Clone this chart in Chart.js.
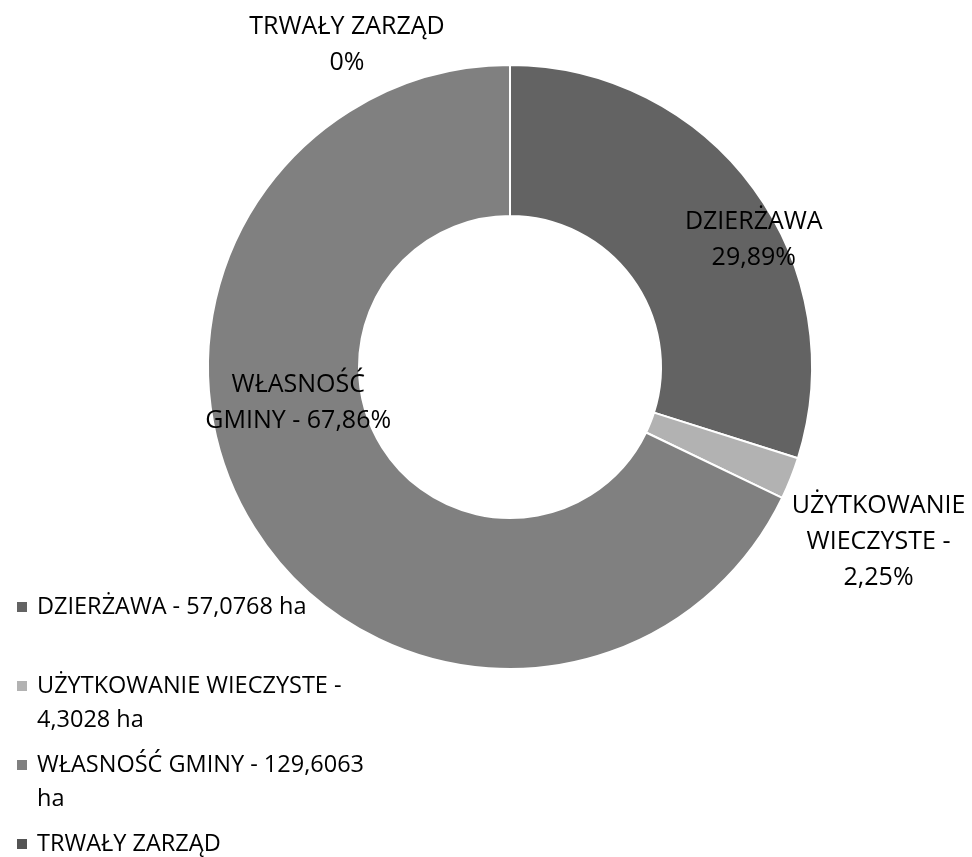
<!DOCTYPE html>
<html>
<head>
<meta charset="utf-8">
<script src="https://cdn.jsdelivr.net/npm/chart.js@4.4.0/dist/chart.umd.min.js"></script>
<style>
  html, body { margin: 0; padding: 0; background: #ffffff; }
  #wrap { width: 972px; height: 857px; position: relative; }
</style>
</head>
<body>
<div id="wrap"><canvas id="chart" width="972" height="857"></canvas></div>
<script>
// dane wykresu
const categories = ['DZIERŻAWA', 'UŻYTKOWANIE WIECZYSTE', 'WŁASNOŚĆ GMINY', 'TRWAŁY ZARZĄD'];
const areas = [57.0768, 4.3028, 129.6063, 0];
const areaLabels = ['57,0768 ha', '4,3028 ha', '129,6063 ha', ''];
const percentLabels = ['29,89%', '2,25%', '67,86%', '0%'];
const colors = ['#636363', '#b2b2b2', '#808080', '#545454'];

// etykiety na wykresie (linie tekstu i przesunięcie od środka wycinka)
const sliceLabelLines = [
  ['DZIERŻAWA', '29,89%'],
  ['UŻYTKOWANIE', 'WIECZYSTE -', '2,25%'],
  ['WŁASNOŚĆ', 'GMINY - 67,86%'],
  ['TRWAŁY ZARZĄD', '0%']
];
const sliceLabelOffset = [[61, 7], [158, 91], [-20, -85], [-163, -20]];

// legenda - zawinięte linie
const legendLines = [
  ['DZIERŻAWA - 57,0768 ha'],
  ['UŻYTKOWANIE WIECZYSTE -', '4,3028 ha'],
  ['WŁASNOŚĆ GMINY - 129,6063', 'ha'],
  ['TRWAŁY ZARZĄD']
];

const FONT = '"Open Sans", "Noto Sans", sans-serif';

const sliceLabelsPlugin = {
  id: 'sliceLabels',
  afterDatasetsDraw(chart) {
    const ctx = chart.ctx;
    const meta = chart.getDatasetMeta(0);
    ctx.save();
    ctx.font = '25px ' + FONT;
    ctx.fillStyle = '#000000';
    ctx.textAlign = 'center';
    ctx.textBaseline = 'middle';
    const lineH = 36;
    meta.data.forEach((arc, i) => {
      let p;
      if (areas[i] === 0) {
        // pusty wycinek - punkt na górze pierścienia
        p = { x: arc.x, y: arc.y - arc.outerRadius };
      } else {
        p = arc.tooltipPosition();
      }
      const lines = sliceLabelLines[i];
      const cx = p.x + sliceLabelOffset[i][0];
      const cy = p.y + sliceLabelOffset[i][1];
      const top = cy - (lines.length - 1) * lineH / 2;
      lines.forEach((t, k) => ctx.fillText(t, cx, top + k * lineH));
    });
    ctx.restore();
  }
};

const legendPlugin = {
  id: 'customLegend',
  afterDraw(chart) {
    const ctx = chart.ctx;
    ctx.save();
    ctx.font = '23.5px ' + FONT;
    ctx.textBaseline = 'middle';
    const startY = 607;
    const slot = 79;
    const lineH = 34;
    legendLines.forEach((lines, i) => {
      const y = startY + i * slot;
      ctx.fillStyle = colors[i];
      ctx.fillRect(17, y - 5, 10, 10);
      ctx.fillStyle = '#000000';
      lines.forEach((t, k) => ctx.fillText(t, 37, y + k * lineH));
    });
    ctx.restore();
  }
};

new Chart(document.getElementById('chart'), {
  type: 'doughnut',
  data: {
    labels: categories,
    datasets: [{
      data: areas,
      backgroundColor: colors,
      borderColor: '#ffffff',
      borderWidth: 2
    }]
  },
  options: {
    responsive: false,
    animation: false,
    cutout: '50%',
    layout: { padding: { left: 207, right: 159, top: 64, bottom: 187 } },
    plugins: {
      legend: { display: false },
      tooltip: { enabled: false }
    }
  },
  plugins: [sliceLabelsPlugin, legendPlugin]
});
</script>
</body>
</html>
